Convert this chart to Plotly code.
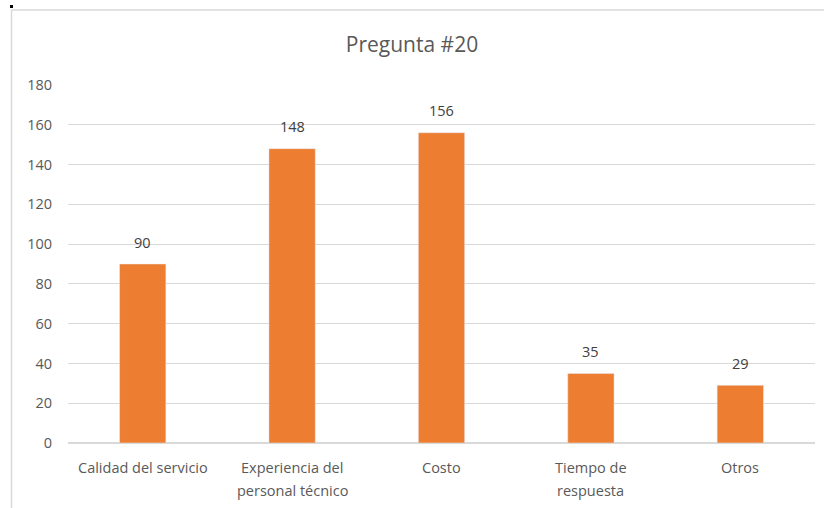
import plotly.graph_objects as go

categories = ["Calidad del servicio", "Experiencia del\npersonal técnico", "Costo", "Tiempo de\nrespuesta", "Otros"]
values = [90, 148, 156, 35, 29]
y_ticks = [0, 20, 40, 60, 80, 100, 120, 140, 160, 180]

FONT = "Open Sans, sans-serif"
GRID = "#d9d9d9"
PLOT_H = 358
PLOT_W = 747

fig = go.Figure()
fig.add_trace(go.Bar(x=categories, y=values, marker_color="#ED7D31", width=0.31,
                     hoverinfo="skip"))

for c, v in zip(categories, values):
    fig.add_annotation(x=c, y=v, text=str(v), showarrow=False, yanchor="middle",
                       yshift=22, font=dict(family=FONT, size=14.5, color="#404040"))

# category labels (Excel-like line spacing)
for c in categories:
    for i, line in enumerate(c.split("\n")):
        fig.add_annotation(x=c, y=0, yref="paper", text=line, showarrow=False,
                           yanchor="middle", yshift=-(24 + 23 * i),
                           font=dict(family=FONT, size=14.5, color="#595959"))

fig.update_layout(
    width=824, height=508,
    margin=dict(l=68, r=9, t=85, b=65),
    paper_bgcolor="white", plot_bgcolor="white",
    showlegend=False,
    title=dict(text="Pregunta #20", x=0.5, xanchor="center", y=1 - 45/508, yanchor="middle",
               font=dict(family=FONT, size=21, color="#595959")),
    xaxis=dict(showgrid=False, showline=False, ticks="", zeroline=False,
               showticklabels=False),
    yaxis=dict(range=[0, 180], tickvals=y_ticks, showgrid=True, gridcolor=GRID, gridwidth=1,
               zeroline=True, zerolinecolor=GRID, zerolinewidth=1.5, showline=False,
               ticks="", ticklabelstandoff=15,
               tickfont=dict(family=FONT, size=14.5, color="#595959")),
    shapes=[
        dict(type="line", xref="paper", yref="paper", x0=-56.5/PLOT_W, x1=1 + 9/PLOT_W,
             y0=1 + 75/PLOT_H, y1=1 + 75/PLOT_H, line=dict(color=GRID, width=1.5)),
        dict(type="line", xref="paper", yref="paper", x0=-56.5/PLOT_W, x1=-56.5/PLOT_W,
             y0=1 + 75/PLOT_H, y1=-65/PLOT_H, line=dict(color=GRID, width=1.5)),
        dict(type="rect", xref="paper", yref="paper", x0=-58/PLOT_W, x1=-55/PLOT_W,
             y0=1 + 77/PLOT_H, y1=1 + 80/PLOT_H, line=dict(width=0), fillcolor="black"),
    ],
)

fig.write_html("out.html")
